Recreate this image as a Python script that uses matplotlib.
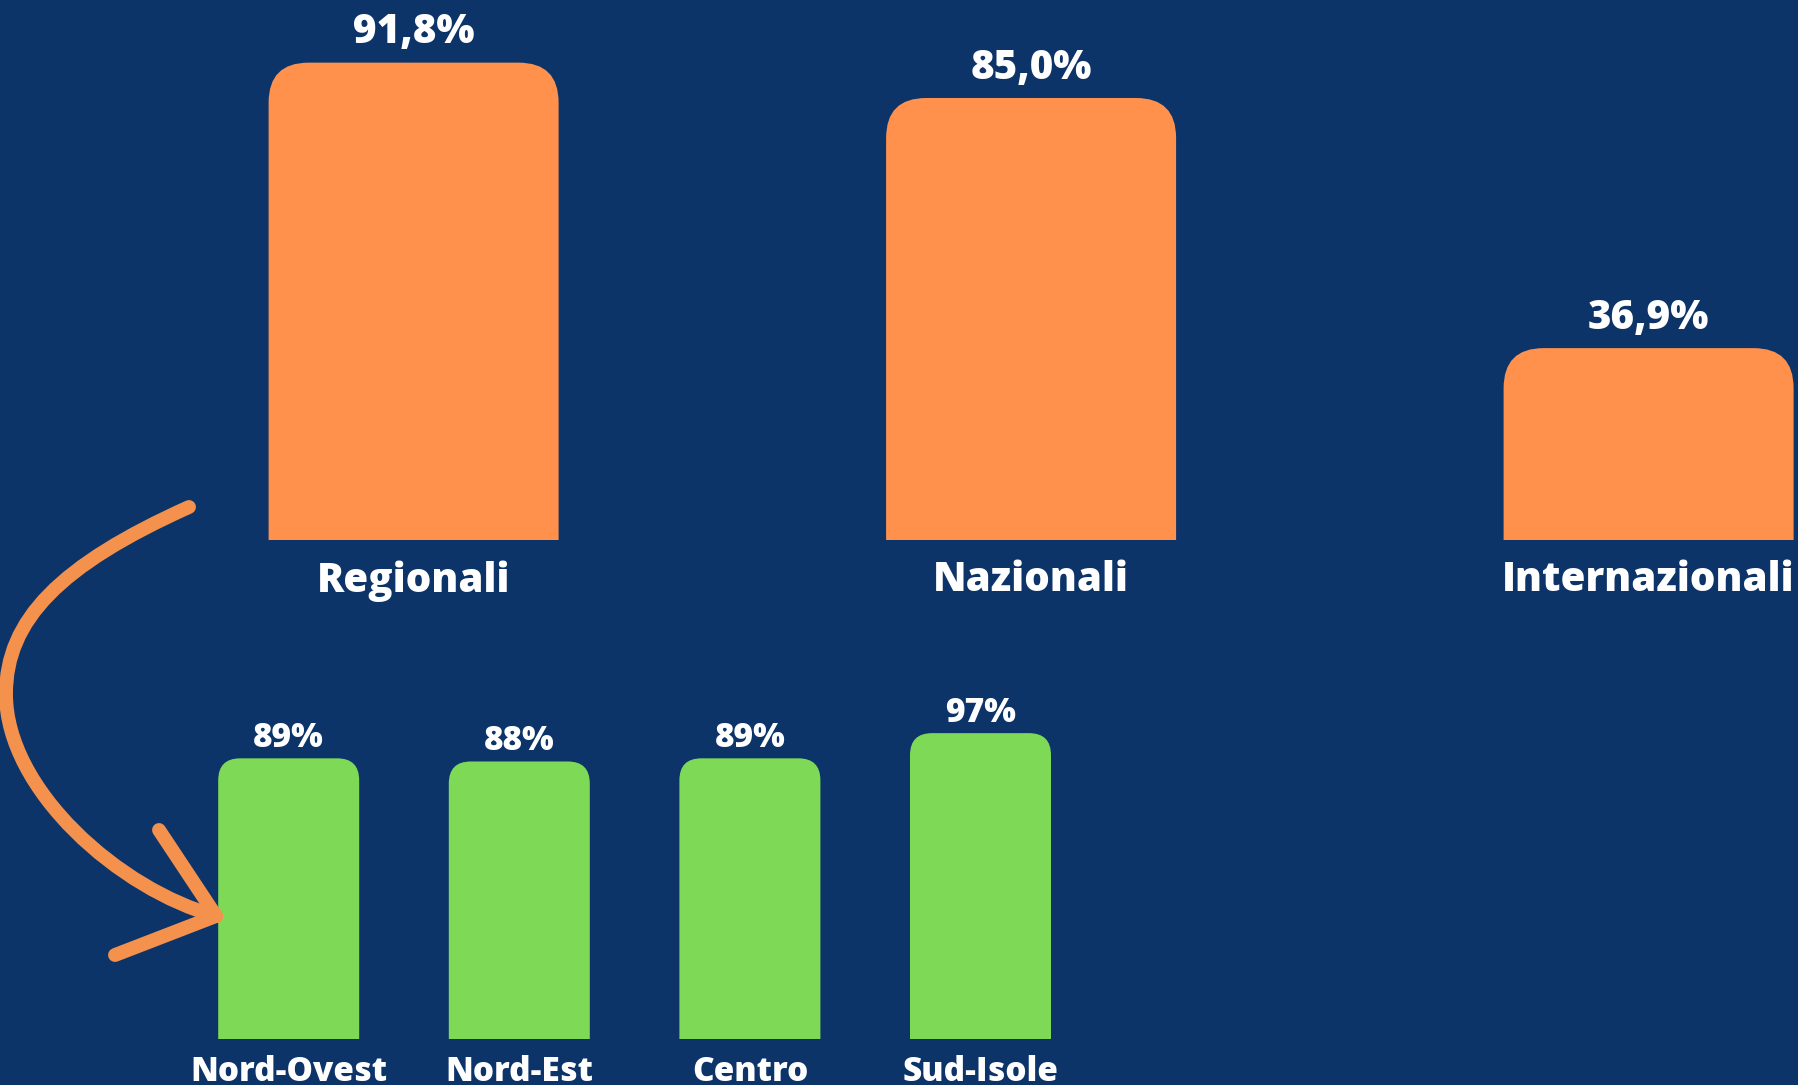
import matplotlib
matplotlib.use('Agg')
import matplotlib.pyplot as plt
from matplotlib.patches import FancyBboxPatch, PathPatch
from matplotlib.path import Path

# ── Data ──────────────────────────────────────────────────────────────────────
main_cats   = ['Regionali', 'Nazionali', 'Internazionali']
main_vals   = [91.8, 85.0, 36.9]
main_labels = ['91,8%', '85,0%', '36,9%']

reg_cats   = ['Nord-Ovest', 'Nord-Est', 'Centro', 'Sud-Isole']
reg_vals   = [89, 88, 89, 97]
reg_labels = ['89%', '88%', '89%', '97%']

BG     = '#0C3469'
ORANGE = '#FF914D'
GREEN  = '#7ED957'
ARROW  = '#F4914D'

W, H = 1799, 1085
plt.rcParams['font.family'] = ['Open Sans', 'DejaVu Sans']

fig = plt.figure(figsize=(W / 100, H / 100), dpi=100, facecolor=BG)


def rounded_bars(ax, xs, vals, width, color, radius_px):
    bars = ax.bar(xs, vals, width=width, color='none', edgecolor='none')
    x0, y0 = ax.transData.transform((0, 0))
    x1, y1 = ax.transData.transform((1, 1))
    ppx, ppy = x1 - x0, y1 - y0
    r = radius_px / ppx
    a = ppx / ppy
    for b in bars:
        # extend below the baseline so the bottom corners get clipped square
        p = FancyBboxPatch((b.get_x(), -2 * r * a), b.get_width(),
                           b.get_height() + 2 * r * a,
                           boxstyle=f'round,pad=0,rounding_size={r}',
                           mutation_aspect=a, fc=color, ec='none')
        ax.add_patch(p)
    return bars


txt = dict(ha='center', va='center', color='white', fontweight=800,
           textcoords='offset points', annotation_clip=False)

# ── Top: main categories ────────────────────────────────────────────────────
ax = fig.add_axes([0, 545 / H, 1, 540 / H])
ax.set_xlim(-413.6 / 617.5, (W - 413.6) / 617.5)
ax.set_ylim(0, 540 / 5.2)
ax.axis('off')
rounded_bars(ax, range(3), main_vals, 290 / 617.5, ORANGE, 40)
for i, (v, lbl, cat) in enumerate(zip(main_vals, main_labels, main_cats)):
    ax.annotate(lbl, (i, v), xytext=(0, 21.5), fontsize=29, **txt)
    ax.annotate(cat, (i, 0), xytext=(0, -29.5), fontsize=29, **txt)

# ── Bottom: breakdown of Regionali ─────────────────────────────────────────
ax2 = fig.add_axes([0, 46.5 / H, 1, 498.5 / H])
ax2.set_xlim(-288.7 / 230.6, (W - 288.7) / 230.6)
ax2.set_ylim(0, 498.5 / 3.148)
ax2.axis('off')
rounded_bars(ax2, range(4), reg_vals, 141 / 230.6, GREEN, 22)
for i, (v, lbl, cat) in enumerate(zip(reg_vals, reg_labels, reg_cats)):
    ax2.annotate(lbl, (i, v), xytext=(0, 14.5), fontsize=24, **txt)
    ax2.annotate(cat, (i, 0), xytext=(0, -24), fontsize=24, **txt)

# ── Hand-drawn arrow (pixel coords overlay) ────────────────────────────────
ov = fig.add_axes([0, 0, 1, 1])
ov.set_xlim(0, W)
ov.set_ylim(H, 0)
ov.axis('off')
ov.patch.set_alpha(0)

verts = [(189, 507), (60, 565), (6, 620), (6, 694),
         (6, 790), (120, 890), (216, 916)]
codes = [Path.MOVETO] + [Path.CURVE4] * 6
ov.add_patch(PathPatch(Path(verts, codes), fc='none', ec=ARROW, lw=10,
                       capstyle='round', joinstyle='round'))
for start in [(159, 830), (115, 955)]:
    ov.plot([start[0], 216], [start[1], 916], color=ARROW, lw=10,
            solid_capstyle='round')

fig.savefig('out.png', dpi=100, facecolor=BG)
